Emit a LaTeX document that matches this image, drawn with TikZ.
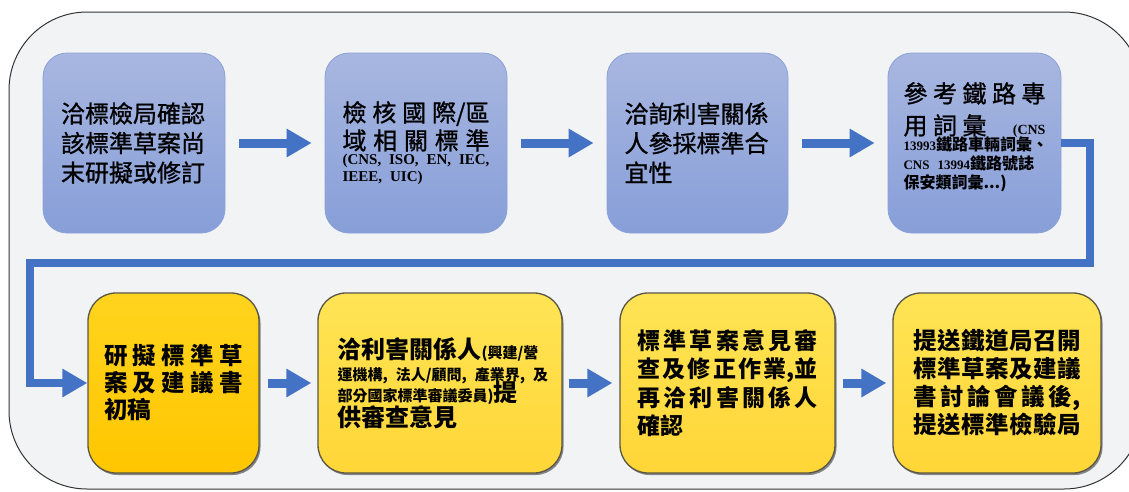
\documentclass[tikz,border=0pt]{standalone}
\usepackage{fontspec}
\newfontfamily\cjk[FakeBold=1.0]{Noto Sans CJK TC}
\newfontfamily\cjkp{Noto Sans CJK TC}
\newfontfamily\tnr{Liberation Serif}
\usetikzlibrary{arrows.meta,shadows,calc}
\definecolor{bg}{RGB}{242,243,245}
\definecolor{bluetop}{RGB}{168,183,224}
\definecolor{bluebot}{RGB}{135,158,216}
\definecolor{blueedge}{RGB}{138,161,218}
\definecolor{arrowblue}{RGB}{68,114,196}
\definecolor{ytop}{RGB}{255,228,85}
\definecolor{ybot}{RGB}{255,214,55}
\definecolor{gtop}{RGB}{255,212,30}
\definecolor{gbot}{RGB}{255,198,0}
\definecolor{yedge}{RGB}{90,86,70}
\newcommand{\tb}[1]{{\tnr\bfseries\frenchspacing #1}}
\newcommand{\smc}{\cjkp\bfseries\fontsize{16}{19}\selectfont}
\newcommand{\smt}[1]{{\fontsize{13}{19}\selectfont\tb{#1}}}
\newcommand{\spl}[1]{\leavevmode\hbox to\hsize{#1}}
\newcommand{\fixed}[1]{\baselineskip=#1\lineskiplimit=-100pt\relax}
\newcommand{\padbot}[1]{\par\kern#1\hrule height 0pt\relax}
\begin{document}
\begin{tikzpicture}[x=1pt,y=-1pt,
  bluebox/.style={rounded corners=24pt, draw=blueedge, line width=0.8pt,
    top color=bluetop, bottom color=bluebot, minimum height=180pt,
    inner sep=0pt, align=left, font=\cjk\fontsize{24}{29.5}\selectfont},
  ybox/.style={rounded corners=28pt, draw=yedge, line width=1.3pt,
    top color=ytop, bottom color=ybot, minimum height=180pt,
    inner sep=0pt, align=left, font=\cjkp\bfseries\fontsize{23.5}{28}\selectfont,
    drop shadow={shadow xshift=1.5pt, shadow yshift=-2pt, opacity=0.45, fill=black}},
  gbox/.style={ybox, top color=gtop, bottom color=gbot},
  arr/.style={draw=arrowblue, line width=9pt, -{Triangle[length=25pt,width=27pt]}},
  conn/.style={draw=arrowblue, line width=8pt, line join=miter, -{Triangle[length=25pt,width=27pt]}}
]
\useasboundingbox (0,0) rectangle (1129,491);
\fill[white] (0,0) rectangle (1129,491);
\draw[draw=black!80, line width=1pt, fill=bg, rounded corners=78pt] (9,12) rectangle (1142,489);

% top row
\node[bluebox, minimum width=182pt, text width=146pt] (b1) at (134,143)
  {洽標檢局確認\\該標準草案尚\\末研擬或修訂};
\node[bluebox, minimum width=182pt, text width=147pt,
      font=\cjk\fontsize{24}{17}\selectfont\fixed{17pt}] (b2) at (416,143)
  {\spl{檢\hfill 核\hfill 國\hfill 際/區}\\[11pt]
   \spl{域\hfill 相\hfill 關\hfill 標\hfill 準}\\[-2pt]
   \spl{\fontsize{15}{17}\selectfont\tnr\bfseries (CNS,\hfil ISO,\hfil EN,\hfil IEC,}\\
   {\fontsize{15}{17}\selectfont\tb{IEEE, UIC)}}};
\node[bluebox, minimum width=181pt, text width=146pt] (b3) at (697.5,143)
  {洽詢利害關係\\人參採標準合\\宜性};
\node[bluebox, minimum width=173pt, text width=142pt,
      font=\cjk\fontsize{24}{19}\selectfont\fixed{19pt}] (b4) at (974.5,143)
  {\spl{參\hfill 考\hfill 鐵\hfill 路\hfill 專}\\[13pt]
   \spl{用\hskip5.5pt 詞\hskip5.5pt 彙\hfill{\fontsize{14}{19}\selectfont\tb{(CNS}}}\\[-3pt]
   {\smc\smt{13993}鐵路車輛詞彙、}\\
   {\smc\smt{CNS 13994}鐵路號誌}\\
   {\smc 保安類詞彙...)}\padbot{12pt}};

% bottom row
\node[gbox, minimum width=171pt, text width=139pt, font=\cjkp\bfseries\fontsize{23.5}{27}\selectfont] (b5) at (173.5,383)
  {\spl{研\hfill 擬\hfill 標\hfill 準\hfill 草}\\
   \spl{案\hfill 及\hfill 建\hfill 議\hfill 書}\\
   初稿};
\node[ybox, minimum width=244pt, text width=205pt,
      font=\cjkp\bfseries\fontsize{24}{22}\selectfont\fixed{22pt}] (b6) at (440,383)
  {洽利害關係人{\fontsize{15}{22}\selectfont(興建/營}\\
   {\fontsize{15}{22}\selectfont 運機構,~法人/顧問,~產業界,~及}\\[-1pt]
   {\fontsize{15}{22}\selectfont 部分國家標準審議委員)}提\\[3pt]
   供審查意見};
\node[ybox, minimum width=215pt, text width=180pt, font=\cjkp\bfseries\fontsize{23}{28.5}\selectfont] (b7) at (727.5,383)
  {\spl{標\hfill 準\hfill 草\hfill 案\hfill 意\hfill 見\hfill 審}\\
   \spl{查\hfill 及\hfill 修\hfill 正\hfill 作\hfill 業,並}\\
   \spl{再\hfill 洽\hfill 利\hfill 害\hfill 關\hfill 係\hfill 人}\\
   確認};
\node[ybox, minimum width=208pt, text width=167pt] (b8) at (997,383)
  {\spl{提\hfill 送\hfill 鐵\hfill 道\hfill 局\hfill 召\hfill 開}\\
   \spl{標\hfill 準\hfill 草\hfill 案\hfill 及\hfill 建\hfill 議}\\
   \spl{書\hfill 討\hfill 論\hfill 會\hfill 議\hfill 後,}\\
   \spl{提\hfill 送\hfill 標\hfill 準\hfill 檢\hfill 驗\hfill 局}};

% arrows
\draw[arr] ([xshift=14pt]b1.east) -- ([xshift=-13pt]b2.west);
\draw[arr] ([xshift=14pt]b2.east) -- ([xshift=-13pt]b3.west);
\draw[arr] ([xshift=14pt]b3.east) -- ([xshift=-13pt]b4.west);
\coordinate (rc) at (1090,263);
\coordinate (lc) at (30,263);
\draw[conn] (b4.east) -| (rc) -- (lc) |- (b5.west);
\draw[arr] ([xshift=8pt]b5.east) -- ([xshift=-6pt]b6.west);
\draw[arr] ([xshift=6pt]b6.east) -- ([xshift=-7pt]b7.west);
\draw[arr] ([xshift=7pt]b7.east) -- ([xshift=-6pt]b8.west);
\end{tikzpicture}
\end{document}
